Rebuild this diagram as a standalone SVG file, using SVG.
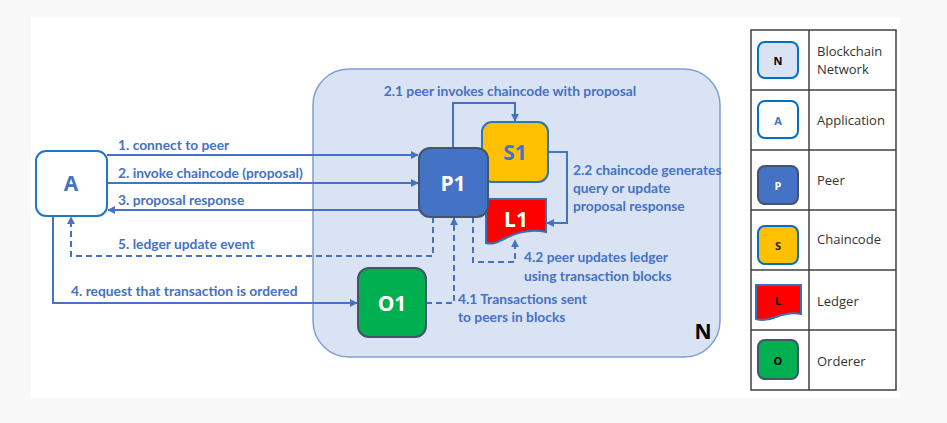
<svg xmlns="http://www.w3.org/2000/svg" width="947" height="423" viewBox="0 0 947 423">
<defs>
<style>
.lbl{font-family:Lato,"Open Sans",sans-serif;font-weight:bold;font-size:13.8px;fill:#4472c4}
.big{font-family:"Open Sans",Lato,sans-serif;font-weight:bold;font-size:21px;text-anchor:middle;dominant-baseline:central}
.leg{font-family:"Open Sans",Lato,sans-serif;font-size:13px;fill:#333}
.ic{font-family:"Open Sans",sans-serif;font-weight:bold;font-size:11px;text-anchor:middle;dominant-baseline:central}
.ln{fill:none;stroke:#4472c4;stroke-width:2}
.dash{stroke-dasharray:6,4}
.grid{stroke:#404040;stroke-width:1.5;fill:none}
</style>
<marker id="ah" viewBox="0 0 10 10" refX="9" refY="5" markerWidth="8" markerHeight="8" markerUnits="userSpaceOnUse" orient="auto">
<path d="M0,0L10,5L0,10Z" fill="#4472c4"/>
</marker>
</defs>
<rect width="947" height="423" fill="#f8f8f8"/>
<rect x="31" y="17" width="869" height="381" fill="#ffffff"/>

<g id="N">
<rect x="313" y="69" width="407" height="288" rx="36" fill="#dae3f3" stroke="#7f9fd0" stroke-width="1.5"/>
<text x="703" y="331" class="big" fill="#000">N</text>
</g>

<g id="connectors">
<path class="ln" d="M107,155H418" marker-end="url(#ah)"/>
<path class="ln" d="M107,183H418" marker-end="url(#ah)"/>
<path class="ln" d="M419,210H108" marker-end="url(#ah)"/>
<path class="ln dash" d="M433,217V256H71V217" marker-end="url(#ah)"/>
<path class="ln" d="M53,216V303H357" marker-end="url(#ah)"/>
<path class="ln dash" d="M426,303H454V218" marker-end="url(#ah)"/>
<path class="ln dash" d="M473,217V262H515V240" marker-end="url(#ah)"/>
<path class="ln" d="M453,148V103H515V121" marker-end="url(#ah)"/>
<path class="ln" d="M548,152H567V223H547" marker-end="url(#ah)"/>
</g>

<g id="labels">
<text class="lbl" x="118" y="150">1. connect to peer</text>
<text class="lbl" x="118" y="178">2. invoke chaincode (proposal)</text>
<text class="lbl" x="118" y="205">3. proposal response</text>
<text class="lbl" x="118" y="249">5. ledger update event</text>
<text class="lbl" x="71" y="296">4. request that transaction is ordered</text>
<text class="lbl" x="510" y="96" text-anchor="middle">2.1 peer invokes chaincode with proposal</text>
<text class="lbl" x="573" y="175">2.2 chaincode generates</text>
<text class="lbl" x="573" y="193">query or update</text>
<text class="lbl" x="573" y="211">proposal response</text>
<text class="lbl" x="524" y="262">4.2 peer updates ledger</text>
<text class="lbl" x="524" y="281">using transaction blocks</text>
<text class="lbl" x="458" y="304">4.1 Transactions sent</text>
<text class="lbl" x="458" y="322">to peers in blocks</text>
</g>

<g id="A">
<rect x="36" y="151" width="71" height="65" rx="10" fill="#fff" stroke="#1f77c8" stroke-width="2"/>
<text x="71" y="183" class="big" fill="#4472c4">A</text>
</g>

<g id="S1">
<rect x="482" y="122" width="66" height="60" rx="10" fill="#ffc000" stroke="#2e75b6" stroke-width="2"/>
<text x="515" y="152" class="big" fill="#4472c4">S1</text>
</g>

<g id="L1">
<path d="M486,199H546V232C532,229 518,232 506,238C498,242 492,245 486,243Z" fill="#ff0000" stroke="#2e75b6" stroke-width="2"/>
<text x="516" y="219" class="big" fill="#fff">L1</text>
</g>

<g id="P1">
<rect x="419" y="148" width="69" height="69" rx="11" fill="#4472c4" stroke="#44546a" stroke-width="2"/>
<text x="453" y="183" class="big" fill="#fff">P1</text>
</g>

<g id="O1">
<rect x="358" y="268" width="68" height="69" rx="11" fill="#00b050" stroke="#44546a" stroke-width="2"/>
<text x="392" y="303" class="big" fill="#fff">O1</text>
</g>

<g id="legend">
<rect class="grid" x="751" y="30" width="145" height="360"/>
<path class="grid" d="M809,30V390M751,90H896M751,150H896M751,210H896M751,270H896M751,330H896"/>
<rect x="758" y="42" width="40" height="36" rx="7" fill="#dae3f3" stroke="#0070c0" stroke-width="2"/>
<text class="ic" x="778" y="60" fill="#000">N</text>
<rect x="758" y="101" width="40" height="37" rx="7" fill="#fff" stroke="#0070c0" stroke-width="2"/>
<text class="ic" x="778" y="120" fill="#4472c4">A</text>
<rect x="758" y="166" width="40" height="38" rx="7" fill="#4472c4" stroke="#44546a" stroke-width="2"/>
<text class="ic" x="778" y="185" fill="#fff">P</text>
<rect x="758" y="226" width="40" height="38" rx="7" fill="#ffc000" stroke="#0070c0" stroke-width="2"/>
<text class="ic" x="778" y="245" fill="#222">S</text>
<path d="M756,285H801V314C792,312 784,314 776,317C769,320 762,321 756,319Z" fill="#ff0000" stroke="#2e75b6" stroke-width="2"/>
<text class="ic" x="778" y="300" fill="#000">L</text>
<rect x="758" y="340" width="40" height="39" rx="7" fill="#00b050" stroke="#44546a" stroke-width="2"/>
<text class="ic" x="778" y="360" fill="#000">O</text>
<text class="leg" x="817" y="56">Blockchain</text>
<text class="leg" x="817" y="74">Network</text>
<text class="leg" x="817" y="125">Application</text>
<text class="leg" x="817" y="185">Peer</text>
<text class="leg" x="817" y="244">Chaincode</text>
<text class="leg" x="817" y="306">Ledger</text>
<text class="leg" x="817" y="366">Orderer</text>
</g>
</svg>
